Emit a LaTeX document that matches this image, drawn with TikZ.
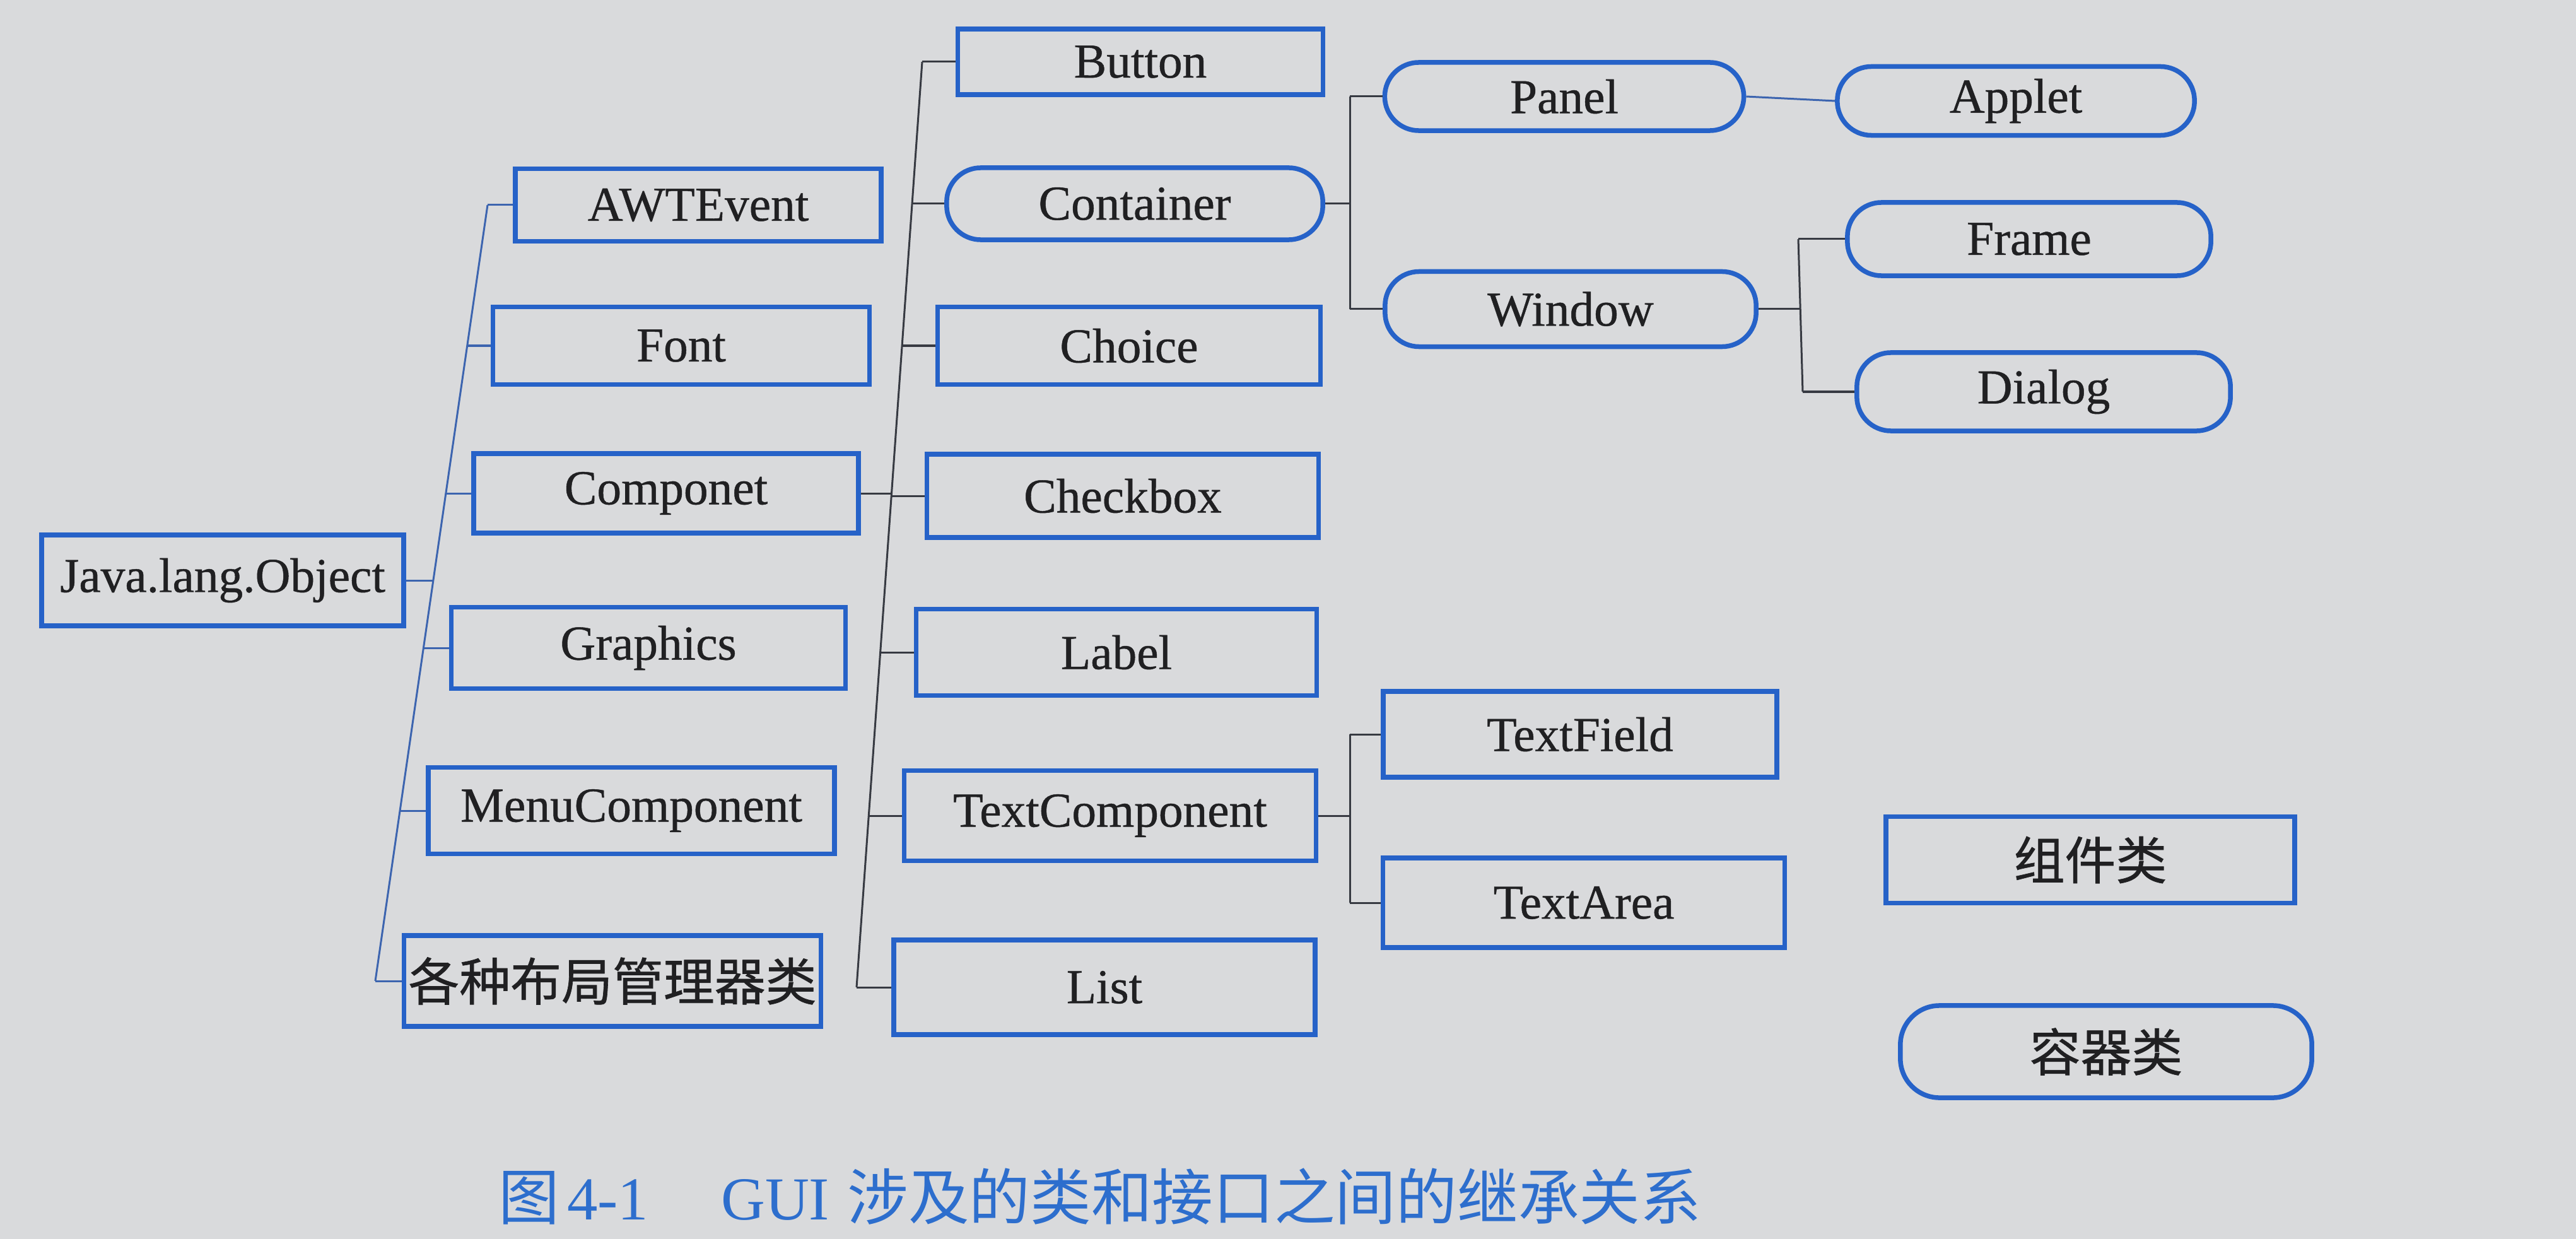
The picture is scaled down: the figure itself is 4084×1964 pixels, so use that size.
\documentclass[tikz,border=0pt]{standalone}
\usepackage{fontspec}
\setmainfont{Liberation Serif}
\newfontfamily\boxfont{Liberation Serif}[FakeBold=0.6]
\newfontfamily\cjk{Noto Sans CJK SC}
\newfontfamily\cjkbox{Noto Sans CJK SC}[FakeBold=0.8]
\definecolor{paper}{RGB}{217,218,220}
\definecolor{boxblue}{RGB}{38,98,200}
\definecolor{linkblue}{RGB}{60,100,175}
\definecolor{linkgrey}{RGB}{55,58,66}
\definecolor{ink}{RGB}{32,32,34}
\definecolor{capblue}{RGB}{45,110,205}
\tikzset{
  box/.style={draw=boxblue, line width=0.075cm, text=ink, inner sep=0pt,
    font=\boxfont\fontsize{22}{26}\selectfont},
  rbox/.style={box, rounded corners=0.54cm},
  cjkbox/.style={box, font=\cjkbox\fontsize{23}{27}\selectfont},
  lnkL/.style={draw=linkblue, line width=0.03cm},
  lnkR/.style={draw=linkgrey, line width=0.03cm},
}
\begin{document}
\begin{tikzpicture}[x=0.01cm, y=-0.01cm]
\fill[paper] (0,0) rectangle (4084,1964);
\useasboundingbox (0,0) rectangle (4084,1964);

% column 1
\node[box, minimum width=5.74cm, minimum height=1.44cm] (java) at (353,920) {Java.lang.Object};
% column 2
\node[box, minimum width=5.80cm, minimum height=1.15cm] (awt) at (1107,325) {AWTEvent};
\node[box, minimum width=5.97cm, minimum height=1.23cm] (font) at (1080,548) {Font};
\node[box, minimum width=6.10cm, minimum height=1.26cm] (comp) at (1056,782) {Componet};
\node[box, minimum width=6.25cm, minimum height=1.29cm] (graph) at (1028,1027) {Graphics};
\node[box, minimum width=6.44cm, minimum height=1.37cm] (menu) at (1001,1285) {MenuComponent};
\node[cjkbox, minimum width=6.61cm, minimum height=1.44cm] (layout) at (971,1555) {各种布局管理器类};
% column 3
\node[box, minimum width=5.79cm, minimum height=1.04cm] (button) at (1808,98) {Button};
\node[rbox, minimum width=5.96cm, minimum height=1.14cm] (container) at (1799,323) {Container};
\node[box, minimum width=6.07cm, minimum height=1.23cm] (choice) at (1790,548) {Choice};
\node[box, minimum width=6.21cm, minimum height=1.32cm] (checkbox) at (1780,786) {Checkbox};
\node[box, minimum width=6.35cm, minimum height=1.37cm] (label) at (1770,1034) {Label};
\node[box, minimum width=6.53cm, minimum height=1.43cm] (textcomp) at (1760,1293) {TextComponent};
\node[box, minimum width=6.68cm, minimum height=1.50cm] (list) at (1751,1565) {List};
% column 4
\node[rbox, minimum width=5.69cm, minimum height=1.08cm] (panel) at (2480,153) {Panel};
\node[rbox, minimum width=5.88cm, minimum height=1.19cm] (window) at (2490,490) {Window};
\node[box, minimum width=6.24cm, minimum height=1.36cm] (textfield) at (2505,1164) {TextField};
\node[box, minimum width=6.37cm, minimum height=1.42cm] (textarea) at (2511,1431) {TextArea};
% column 5
\node[rbox, minimum width=5.66cm, minimum height=1.09cm] (applet) at (3196,160) {Applet};
\node[rbox, minimum width=5.76cm, minimum height=1.16cm] (frame) at (3217,379) {Frame};
\node[rbox, minimum width=5.92cm, minimum height=1.24cm] (dialog) at (3240,621) {Dialog};
% legend
\node[cjkbox, minimum width=6.48cm, minimum height=1.37cm] (zujian) at (3314,1363) {组件类};
\node[cjkbox, rounded corners=0.62cm, minimum width=6.52cm, minimum height=1.46cm] (rongqi) at (3339,1667) {容器类};

% left trunk
\coordinate (lt-awt) at (773,325);
\coordinate (lt-font) at (741,548);
\coordinate (lt-comp) at (707,782);
\coordinate (lt-java) at (687,920);
\coordinate (lt-graph) at (672,1027);
\coordinate (lt-menu) at (634,1285);
\coordinate (lt-layout) at (595,1555);
\draw[lnkL] (lt-awt) -- (lt-layout);
\draw[lnkL] (java.east) -- (lt-java);
\foreach \n in {awt,font,comp,graph,menu,layout}
  \draw[lnkL] (lt-\n) -- (\n.west);

% middle trunk
\coordinate (mt-button) at (1462,98);
\coordinate (mt-container) at (1446,323);
\coordinate (mt-choice) at (1430,548);
\coordinate (mt-comp) at (1413,782);
\coordinate (mt-checkbox) at (1413,786);
\coordinate (mt-label) at (1396,1034);
\coordinate (mt-textcomp) at (1377,1293);
\coordinate (mt-list) at (1358,1565);
\draw[lnkR] (mt-button) -- (mt-list);
\draw[lnkR] (comp.east) -- (mt-comp);
\foreach \n in {button,container,choice,checkbox,label,textcomp,list}
  \draw[lnkR] (mt-\n) -- (\n.west);

% container children
\coordinate (ct-panel) at (2140,153);
\coordinate (ct-container) at (2140,323);
\coordinate (ct-window) at (2140,490);
\draw[lnkR] (ct-panel) -- (ct-window);
\draw[lnkR] (container.east) -- (ct-container);
\draw[lnkR] (ct-panel) -- (panel.west);
\draw[lnkR] (ct-window) -- (window.west);
\draw[lnkL] (panel.east) -- (applet.west);

% window children
\coordinate (wt-frame) at (2851,379);
\coordinate (wt-window) at (2855,490);
\coordinate (wt-dialog) at (2858,621);
\draw[lnkR] (wt-frame) -- (wt-dialog);
\draw[lnkR] (window.east) -- (wt-window);
\draw[lnkR] (wt-frame) -- (frame.west);
\draw[lnkR] (wt-dialog) -- (dialog.west);

% textcomponent children
\coordinate (tt-textfield) at (2140,1164);
\coordinate (tt-textcomp) at (2140,1293);
\coordinate (tt-textarea) at (2140,1431);
\draw[lnkR] (tt-textfield) -- (tt-textarea);
\draw[lnkR] (textcomp.east) -- (tt-textcomp);
\draw[lnkR] (tt-textfield) -- (textfield.west);
\draw[lnkR] (tt-textarea) -- (textarea.west);

% caption
\node[anchor=west, text=capblue, inner sep=0pt, font=\fontsize{27.5}{32}\selectfont] (caption) at (790,1897)
  {{\cjk 图}\hspace{0.12cm}4-1\hspace{1.15cm}GUI\hspace{0.28cm}{\cjk 涉及的类和接口之间的继承关系}};
\end{tikzpicture}
\end{document}
